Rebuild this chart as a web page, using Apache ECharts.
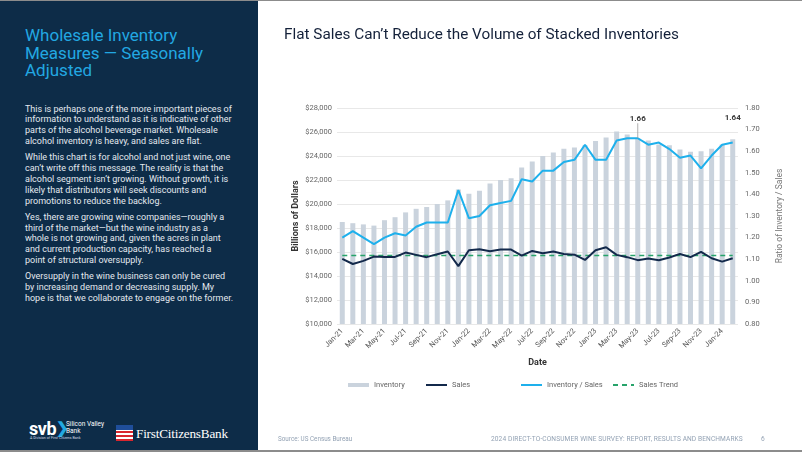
<!DOCTYPE html>
<html>
<head>
<meta charset="utf-8">
<script src="https://cdn.jsdelivr.net/npm/echarts@6/dist/echarts.min.js"></script>
<style>
  html, body { margin:0; padding:0; width:802px; height:452px; overflow:hidden; background:#fff; font-family: Roboto, "Noto Sans", sans-serif; }
  #panel { position:absolute; left:0; top:0; width:258px; height:452px; background:#0d2c48; }
  #ptitle { position:absolute; left:25px; top:27px; color:#22a8e2; font-size:17px; line-height:17.5px; font-family: Roboto, sans-serif; }
  #pbody { position:absolute; left:25px; top:103.5px; width:232px; color:#e4e9ef; font-size:9px; line-height:10.9px; font-family: Roboto, sans-serif; }
  #pbody p { margin:0 0 5px 0; white-space:nowrap; }
  #chart { position:absolute; left:0; top:0; width:802px; height:452px; }
  #topline { position:absolute; left:0; top:0; width:802px; height:1px; background:#8c8c8c; }
  #botline { position:absolute; left:0; top:450px; width:802px; height:2px; background:#8c8c8c; }
  .foot { position:absolute; color:#93a2b4; font-size:6.6px; font-family: Roboto, sans-serif; white-space:nowrap; }
  .logo { position:absolute; color:#fff; white-space:nowrap; }
</style>
</head>
<body>
<div id="panel">
  <div id="ptitle">Wholesale Inventory<br>Measures — Seasonally<br>Adjusted</div>
  <div id="pbody">
    <p>This is perhaps one of the more important pieces of<br>information to understand as it is indicative of other<br>parts of the alcohol beverage market. Wholesale<br>alcohol inventory is heavy, and sales are flat.</p>
    <p>While this chart is for alcohol and not just wine, one<br>can’t write off this message. The reality is that the<br>alcohol segment isn’t growing. Without growth, it is<br>likely that distributors will seek discounts and<br>promotions to reduce the backlog.</p>
    <p>Yes, there are growing wine companies—roughly a<br>third of the market—but the wine industry as a<br>whole is not growing and, given the acres in plant<br>and current production capacity, has reached a<br>point of structural oversupply.</p>
    <p>Oversupply in the wine business can only be cured<br>by increasing demand or decreasing supply. My<br>hope is that we collaborate to engage on the former.</p>
  </div>
  <div class="logo" style="left:29px;top:418px;font-size:18px;font-weight:bold;font-family:Roboto,sans-serif;letter-spacing:-0.4px;">svb</div>
  <div class="logo" style="left:56px;top:419px;font-size:15px;font-weight:bold;color:#22a8e2;">❯</div>
  <div class="logo" style="left:66px;top:421px;font-size:6.5px;line-height:6.5px;">Silicon Valley<br>Bank</div>
  <div class="logo" style="left:30px;top:436px;font-size:3.6px;color:#cfd8e2;">A Division of First Citizens Bank</div>
  <div class="logo" style="left:116px;top:425px;width:17px;height:16px;background:#fff;overflow:hidden;">
    <div style="position:absolute;left:0;top:0;width:17px;height:5px;background:#1f4e9a;"></div>
    <div style="position:absolute;left:0;top:6px;width:17px;height:2px;background:#d8262e;"></div>
    <div style="position:absolute;left:0;top:10px;width:17px;height:2px;background:#d8262e;"></div>
    <div style="position:absolute;left:0;top:14px;width:17px;height:2px;background:#d8262e;"></div>
  </div>
  <div class="logo" style="left:136px;top:426px;font-size:13.2px;font-family:'Liberation Serif','DejaVu Serif',serif;letter-spacing:-0.2px;">FirstCitizensBank</div>
</div>
<div id="topline"></div>
<div id="botline"></div>
<div id="chart"></div>
<div class="foot" style="left:278px;top:435px;font-size:6.3px;">Source: US Census Bureau</div>
<div class="foot" style="left:491px;top:435px;letter-spacing:0.1px;">2024 DIRECT-TO-CONSUMER WINE SURVEY: REPORT, RESULTS AND BENCHMARKS</div>
<div class="foot" style="left:761px;top:435px;">6</div>
<script>
const months = ['Jan-21','Feb-21','Mar-21','Apr-21','May-21','Jun-21','Jul-21','Aug-21','Sep-21','Oct-21','Nov-21','Dec-21',
  'Jan-22','Feb-22','Mar-22','Apr-22','May-22','Jun-22','Jul-22','Aug-22','Sep-22','Oct-22','Nov-22','Dec-22',
  'Jan-23','Feb-23','Mar-23','Apr-23','May-23','Jun-23','Jul-23','Aug-23','Sep-23','Oct-23','Nov-23','Dec-23',
  'Jan-24','Feb-24'];
const inventory = [18500,18400,18300,18200,18650,18900,19300,19600,19750,20000,20300,21200,
  20850,21100,21700,22000,22150,23050,23550,24000,24300,24600,24700,24900,
  25250,25550,26050,25800,25500,25300,24950,24900,24550,24350,24400,24600,
  24950,25400];
const sales = [15430,15000,15260,15620,15590,15590,15950,15760,15570,15820,16040,14820,
  16150,16230,16070,16200,16200,15700,16090,15900,16040,15840,15780,15340,
  16150,16400,15760,15570,15320,15450,15320,15540,15840,15570,16010,15480,
  15200,15480];
const ratio = [1.20,1.23,1.20,1.17,1.20,1.22,1.21,1.25,1.27,1.27,1.27,1.42,
  1.29,1.30,1.35,1.36,1.37,1.47,1.46,1.51,1.51,1.55,1.56,1.63,
  1.56,1.56,1.65,1.66,1.66,1.63,1.64,1.61,1.57,1.58,1.52,1.58,
  1.63,1.64];
const salesTrend = [15700,15700,15700,15700,15700,15700,15700,15700,15700,15700,15700,15700,
  15700,15700,15700,15700,15700,15700,15700,15700,15700,15700,15700,15700,
  15700,15700,15700,15700,15700,15700,15700,15700,15700,15700,15700,15700,
  15700,15700];
const seriesNames = ['Inventory', 'Sales', 'Inventory / Sales', 'Sales Trend'];
const labeledPoints = [28, 37];
const leaderPoint = 28;
const leftTicks = { min:10000, max:28000, interval:2000 };
const rightTicks = { min:0.8, max:1.8, interval:0.1 };

const chart = echarts.init(document.getElementById('chart'), null, { renderer:'canvas' });
const FONT = 'Roboto, sans-serif';
const ratioData = ratio.map((v, i) => {
  if (labeledPoints.indexOf(i) < 0) return v;
  const withLine = i === leaderPoint;
  return {
    value: v,
    symbol: 'circle', symbolSize: 0.01,
    label: { show:true, position:'top', distance: withLine ? 2 : 21, formatter: p => p.value.toFixed(2),
      fontSize:8, fontWeight:'bold', color:'#3a3a3a', fontFamily:FONT },
    labelLine: { show: withLine, length2: 0, lineStyle:{ color:'#9a9a9a', width:0.8 } }
  };
});
const legendText = { fontSize:7.5, color:'#666', fontFamily:FONT };
const legendLefts = [343, 420, 515, 607];
const legends = seriesNames.map((n, i) => ({
  left: legendLefts[i], top:376, itemGap:0, itemWidth:21, itemHeight:4,
  textStyle: legendText,
  data: [ i === 0 ? { name:n, icon:'rect' } : { name:n, itemStyle:{ opacity:0 } } ]
}));
chart.setOption({
  animation:false,
  title: { text:'Flat Sales Can’t Reduce the Volume of Stacked Inventories', left:279, top:23,
    textStyle:{ fontSize:15.3, fontWeight:'normal', color:'#14213a', fontFamily:FONT } },
  grid: { left:337, right:64, top:108, bottom:128, containLabel:false },
  legend: legends,
  xAxis: {
    type:'category', data:months, boundaryGap:true,
    name:'Date', nameLocation:'middle', nameGap:34,
    nameTextStyle:{ fontSize:9, fontWeight:'bold', color:'#333', fontFamily:FONT },
    axisLine:{ show:false }, axisTick:{ show:false },
    axisLabel:{ interval:1, rotate:45, fontSize:7.5, color:'#555', fontFamily:FONT, margin:6 }
  },
  yAxis: [
    { type:'value', min:leftTicks.min, max:leftTicks.max, interval:leftTicks.interval,
      name:'Billions of Dollars', nameLocation:'middle', nameGap:37, nameRotate:90,
      nameTextStyle:{ fontSize:9, fontWeight:'bold', color:'#333', fontFamily:FONT },
      axisLabel:{ formatter: v => '$' + v.toLocaleString('en-US'), fontSize:7.5, color:'#666', fontFamily:FONT, margin:5 },
      splitLine:{ lineStyle:{ color:'#e8e8e8', width:1 } },
      axisLine:{ show:false }, axisTick:{ show:false } },
    { type:'value', min:rightTicks.min, max:rightTicks.max, interval:rightTicks.interval,
      name:'Ratio of Inventory / Sales', nameLocation:'middle', nameGap:37, nameRotate:90,
      nameTextStyle:{ fontSize:8.5, color:'#777', fontFamily:FONT },
      axisLabel:{ formatter: v => v.toFixed(2), fontSize:7.5, color:'#666', fontFamily:FONT, margin:7 },
      splitLine:{ show:false }, axisLine:{ show:false }, axisTick:{ show:false } }
  ],
  series: [
    { name:seriesNames[0], type:'bar', data:inventory, barWidth:5, itemStyle:{ color:'#cad3dd' }, yAxisIndex:0 },
    { name:seriesNames[3], type:'line', data:salesTrend, yAxisIndex:0, symbol:'none',
      lineStyle:{ color:'#27a36a', width:1.5, type:[5,4] }, itemStyle:{ color:'#27a36a' } },
    { name:seriesNames[1], type:'line', data:sales, yAxisIndex:0, symbol:'none',
      lineStyle:{ color:'#13294b', width:2 }, itemStyle:{ color:'#13294b' } },
    { name:seriesNames[2], type:'line', data:ratioData, yAxisIndex:1, symbol:'none',
      lineStyle:{ color:'#1eb0ec', width:2 }, itemStyle:{ color:'#1eb0ec' },
      labelLayout: p => p.dataIndex === leaderPoint ? { dy: -13 } : {} }
  ]
});
</script>
</body>
</html>
